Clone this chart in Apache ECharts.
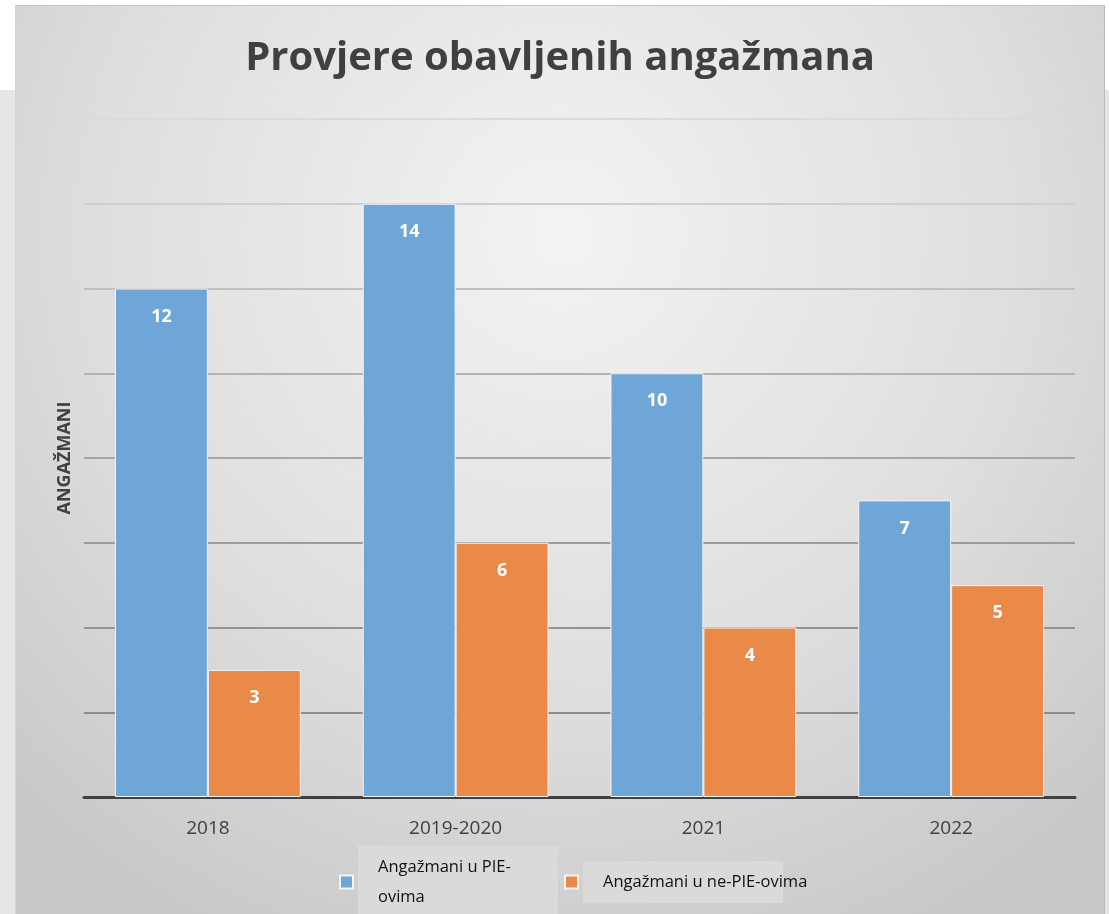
<!DOCTYPE html>
<html>
<head>
<meta charset="utf-8">
<script src="https://cdn.jsdelivr.net/npm/echarts@6/dist/echarts.min.js"></script>
<style>
  html, body { margin: 0; padding: 0; width: 1109px; height: 914px; overflow: hidden; background: #e9e9e9; }
  body { background: linear-gradient(#ffffff 0, #ffffff 90px, #e6e6e6 90px); }
  #chart { position: absolute; left: 15px; top: 5px; width: 1088px; height: 909px;
           border-top: 1px solid #c4c4c4; border-right: 1px solid #b8b8b8; border-left: 1px solid #d6d6d6; }
</style>
</head>
<body>
<div id="chart"></div>
<script>
  const categories = ["2018", "2019-2020", "2021", "2022"];
  const pieValues = [12, 14, 10, 7];
  const nonPieValues = [3, 6, 4, 5];
  const seriesNames = ["Angažmani u PIE-ovima", "Angažmani u ne-PIE-ovima"];

  const chart = echarts.init(document.getElementById("chart"));

  const labelStyle = {
    show: true,
    position: "insideTop",
    distance: 19,
    color: "#ffffff",
    fontWeight: "bold",
    fontSize: 18,
    fontFamily: "Open Sans",
  };

  const option = {
    backgroundColor: {
      type: "radial",
      x: 0.5, y: 0.25, r: 0.85,
      colorStops: [
        { offset: 0, color: "#f3f3f3" },
        { offset: 0.6, color: "#dedede" },
        { offset: 1, color: "#c9c9c9" },
      ],
    },
    title: {
      text: "Provjere obavljenih angažmana",
      left: "center",
      top: 28,
      textStyle: { fontFamily: "Open Sans", fontWeight: "bold", fontSize: 40, color: "#404040" },
    },
    grid: { left: 68, right: 29, top: 113, bottom: 118 },
    legend: {
      bottom: -8,
      left: 318,
      itemWidth: 13,
      itemHeight: 13,
      itemGap: 6,
      icon: "rect",
      data: seriesNames,
      formatter: (name) => name === seriesNames[0] ? "Angažmani u PIE-\novima" : name,
      textStyle: {
        fontFamily: "Open Sans",
        fontSize: 16.5,
        color: "#111111",
        lineHeight: 30,
        backgroundColor: "#dadada",
        padding: [6, 30, 6, 20],
        width: 150,
      },
    },
    xAxis: {
      type: "category",
      data: categories,
      axisLine: { lineStyle: { color: "#404040", width: 3 } },
      axisTick: { show: false },
      axisLabel: { fontFamily: "Open Sans", fontSize: 19, color: "#404040", margin: 22 },
    },
    yAxis: {
      type: "value",
      min: 0,
      max: 16,
      interval: 2,
      name: "ANGAŽMANI",
      nameLocation: "middle",
      nameGap: 10,
      nameTextStyle: { fontFamily: "Open Sans", fontWeight: "bold", fontSize: 18, color: "#404040" },
      axisLabel: { show: false },
      axisLine: { show: false },
      axisTick: { show: false },
      splitLine: {
        lineStyle: {
          width: 2,
          color: ["#8a8a8a", "#8c8c8c", "#939393", "#9c9c9c", "#a6a6a6", "#b2b2b2", "#c0c0c0", "#cfcfcf", "#dadada"],
        },
      },
    },
    series: [
      {
        name: seriesNames[0],
        type: "bar",
        data: pieValues,
        barGap: "0%",
        barCategoryGap: "25%",
        itemStyle: { color: "#6fa6d8", borderColor: "#f4f4f4", borderWidth: 1 },
        label: labelStyle,
      },
      {
        name: seriesNames[1],
        type: "bar",
        data: nonPieValues,
        itemStyle: { color: "#ea8a48", borderColor: "#f4f4f4", borderWidth: 1 },
        label: labelStyle,
      },
    ],
  };

  chart.setOption(option);
</script>
</body>
</html>
